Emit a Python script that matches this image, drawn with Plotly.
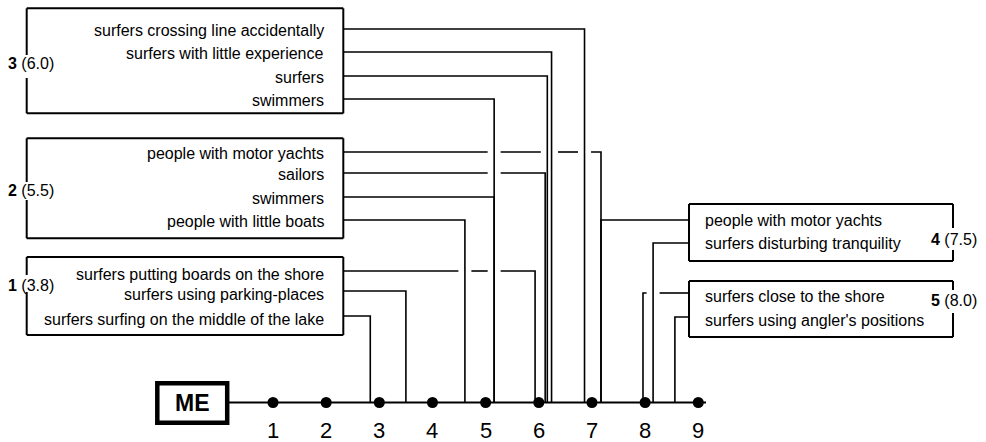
import plotly.graph_objects as go

# ---------------- data ----------------
group_ids = ["1", "2", "3", "4", "5"]
group_means = [3.8, 5.5, 6.0, 7.5, 8.0]

item_groups = ["3", "3", "3", "3",
               "2", "2", "2", "2",
               "1", "1", "1",
               "4", "4",
               "5", "5"]
item_labels = ["surfers crossing line accidentally",
               "surfers with little experience",
               "surfers",
               "swimmers",
               "people with motor yachts",
               "sailors",
               "swimmers",
               "people with little boats",
               "surfers putting boards on the shore",
               "surfers using parking-places",
               "surfers surfing on the middle of the lake",
               "people with motor yachts",
               "surfers disturbing tranquility",
               "surfers close to the shore",
               "surfers using angler's positions"]
item_values = [6.86, 6.24, 6.16, 5.16,
               7.17, 6.12, 5.16, 4.61,
               5.93, 3.50, 2.83,
               7.17, 8.15,
               7.96, 8.56]

scale_points = [1, 2, 3, 4, 5, 6, 7, 8, 9]
scale_labels = ["1", "2", "3", "4", "5", "6", "7", "8", "9"]
anchor_label = "ME"

# ---------------- layout constants (pixels) ----------------
W, H = 986, 442
PX0 = 273.0      # pixel position of scale point 1
PX_STEP = 53.16  # pixels per scale unit


def X(p):
    return 1 + (p - PX0) / PX_STEP


def P(v):
    return PX0 + (v - 1) * PX_STEP


AXIS_Y = 402.5
FONT = "Liberation Sans, Arial, Helvetica, sans-serif"
BLACK = "#000000"

BOXES = {
    "3": dict(side="left", x0=26.7, x1=343.3, y0=8.3, y1=113.3, label_y=63, gap=(55, 78),
              rows=[29, 52, 76, 99], tdy=1),
    "2": dict(side="left", x0=26.7, x1=343.3, y0=138.3, y1=238.3, label_y=190, gap=(182, 200),
              rows=[152, 173, 197, 220], tdy=1),
    "1": dict(side="left", x0=26.7, x1=343.3, y0=257, y1=335, label_y=285, gap=(275, 292),
              rows=[271, 291, 316], tdy=3),
    "4": dict(side="right", x0=689, x1=953, y0=204, y1=261, label_y=239, gap=(228, 250),
              rows=[220, 243], tdy=0),
    "5": dict(side="right", x0=689, x1=953, y0=281, y1=337, label_y=300, gap=(290, 313),
              rows=[293, 317], tdy=3),
}

fig = go.Figure()
shapes = []
annotations = []


def seg(xa, ya, xb, yb, w):
    shapes.append(dict(type="line", xref="x", yref="y", x0=X(xa), y0=ya, x1=X(xb), y1=yb,
                       line=dict(color=BLACK, width=w)))


# boxes + group labels
for gid, mean in zip(group_ids, group_means):
    b = BOXES[gid]
    bw = 2
    seg(b["x0"], b["y0"], b["x1"], b["y0"], bw)
    seg(b["x0"], b["y1"], b["x1"], b["y1"], bw)
    if b["side"] == "left":
        seg(b["x1"], b["y0"], b["x1"], b["y1"], bw)
        seg(b["x0"], b["y0"], b["x0"], b["gap"][0], bw)
        seg(b["x0"], b["gap"][1], b["x0"], b["y1"], bw)
        lx = 6
    else:
        seg(b["x0"], b["y0"], b["x0"], b["y1"], bw)
        seg(b["x1"], b["y0"], b["x1"], b["gap"][0], bw)
        seg(b["x1"], b["gap"][1], b["x1"], b["y1"], bw)
        lx = 929
    annotations.append(dict(x=X(lx), y=b["label_y"], xref="x", yref="y",
                            text=f"<b>{gid}</b> ({mean:.1f})", showarrow=False,
                            xanchor="left", yanchor="middle",
                            font=dict(family=FONT, size=16, color=BLACK)))

# item rows
row_counter = {g: 0 for g in group_ids}
items = []
for g, lab, v in zip(item_groups, item_labels, item_values):
    b = BOXES[g]
    k = row_counter[g]
    row_counter[g] += 1
    y = b["rows"][k]
    if b["side"] == "left":
        ha, hb = b["x1"], P(v)
        annotations.append(dict(x=X(326), y=y + b["tdy"], xref="x", yref="y", text=lab,
                                showarrow=False, xanchor="right", yanchor="middle",
                                font=dict(family=FONT, size=16, color=BLACK)))
    else:
        ha, hb = P(v), b["x0"]
        annotations.append(dict(x=X(703), y=y + b["tdy"], xref="x", yref="y", text=lab,
                                showarrow=False, xanchor="left", yanchor="middle",
                                font=dict(family=FONT, size=16, color=BLACK)))
    items.append(dict(v=v, y=y, ha=ha, hb=hb))

# connectors (with gaps where crossing other verticals)
cx, cy = [], []
GAP = 6.5
for i, it in enumerate(items):
    lo, hi = min(it["ha"], it["hb"]), max(it["ha"], it["hb"])
    gaps = []
    for j, ot in enumerate(items):
        if j == i:
            continue
        xv = P(ot["v"])
        if lo + 2 < xv < hi - 2 and ot["y"] < it["y"] - 1:
            gaps.append((xv - GAP, xv + GAP))
    gaps.sort()
    merged = []
    for g0, g1 in gaps:
        if merged and g0 <= merged[-1][1]:
            merged[-1] = (merged[-1][0], max(merged[-1][1], g1))
        else:
            merged.append((g0, g1))
    start = lo
    pieces = []
    for g0, g1 in merged:
        pieces.append((start, g0))
        start = g1
    pieces.append((start, hi))
    vx = P(it["v"])
    for a, bb in pieces:
        if abs(bb - vx) < 0.01:
            cx += [X(a), X(bb), it["v"], None]
            cy += [it["y"], it["y"], AXIS_Y, None]
        elif abs(a - vx) < 0.01:
            cx += [it["v"], X(a), X(bb), None]
            cy += [AXIS_Y, it["y"], it["y"], None]
        else:
            cx += [X(a), X(bb), None]
            cy += [it["y"], it["y"], None]

fig.add_trace(go.Scatter(x=cx, y=cy, mode="lines", line=dict(color=BLACK, width=1.6),
                         hoverinfo="skip", showlegend=False))

# scale axis line
fig.add_trace(go.Scatter(x=[X(229), X(706)], y=[AXIS_Y, AXIS_Y], mode="lines",
                         line=dict(color=BLACK, width=1.8), hoverinfo="skip", showlegend=False))

# scale dots
fig.add_trace(go.Scatter(x=scale_points, y=[AXIS_Y] * len(scale_points), mode="markers",
                         marker=dict(color=BLACK, size=11), hoverinfo="skip", showlegend=False))

for p, lab in zip(scale_points, scale_labels):
    annotations.append(dict(x=p, y=430, xref="x", yref="y", text=lab, showarrow=False,
                            xanchor="center", yanchor="middle",
                            font=dict(family=FONT, size=22, color=BLACK)))

# ME anchor box
shapes.append(dict(type="rect", xref="x", yref="y", x0=X(157.3), x1=X(227.2), y0=383.3, y1=422.7,
                   line=dict(color=BLACK, width=4.5), fillcolor="white"))
annotations.append(dict(x=X(192), y=403, xref="x", yref="y", text=f"<b>{anchor_label}</b>",
                        showarrow=False, xanchor="center", yanchor="middle",
                        font=dict(family=FONT, size=23, color=BLACK)))

fig.update_layout(
    width=W, height=H, autosize=False,
    margin=dict(l=0, r=0, t=0, b=0),
    paper_bgcolor="white", plot_bgcolor="white",
    showlegend=False,
    shapes=shapes, annotations=annotations,
    xaxis=dict(range=[X(0), X(W)], visible=False, fixedrange=True),
    yaxis=dict(range=[H, 0], visible=False, fixedrange=True),
)

fig.write_html("out.html",
               config={"displayModeBar": False, "staticPlot": True},
               post_script="document.body.style.margin='0';document.body.style.padding='0';"
                           "document.body.style.overflow='hidden';")
